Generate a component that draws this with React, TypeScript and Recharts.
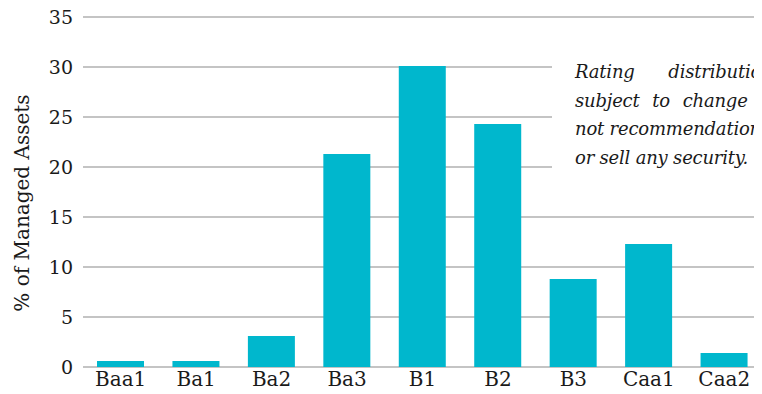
import React from 'react';
import { BarChart, Bar, XAxis, YAxis, CartesianGrid } from 'recharts';

const ratings = ['Baa1', 'Ba1', 'Ba2', 'Ba3', 'B1', 'B2', 'B3', 'Caa1', 'Caa2'];
const managedPct = [0.6, 0.6, 3.1, 21.3, 30.1, 24.3, 8.8, 12.3, 1.4];
const yTicks = [0, 5, 10, 15, 20, 25, 30, 35];
const noteLines = [
  'Rating distribution is',
  'subject to change and is',
  'not recommendation to buy',
  'or sell any security.',
];

const data = ratings.map((name, i) => ({ name, pct: managedPct[i] }));

const FONT = '"DejaVu Serif", serif';

const YLabel = (props: any) => {
  const vb = props.viewBox || {};
  const x = vb.x + 22;
  const y = vb.y + vb.height / 2 + 11;
  return (
    <text
      x={x}
      y={y}
      transform={`rotate(-90, ${x}, ${y})`}
      textAnchor="middle"
      dominantBaseline="central"
      fill="#1a1a1a"
      style={{ fontFamily: FONT, fontSize: 20 }}
    >
      % of Managed Assets
    </text>
  );
};

const App: React.FC = () => {
  return (
    <div style={{ margin: -8, width: 762, height: 394, overflow: 'hidden', position: 'relative', background: '#fff' }}>
      <BarChart
        width={762}
        height={394}
        data={data}
        margin={{ top: 17, right: 0, left: 0, bottom: 0 }}
        barSize={47}
      >
        <CartesianGrid vertical={false} stroke="#c4c4c4" strokeWidth={2} />
        <XAxis
          dataKey="name"
          axisLine={false}
          tickLine={false}
          height={27}
          tickMargin={0}
          interval={0}
          tick={{ fontFamily: FONT, fontSize: 20, fill: '#1a1a1a', dy: -1 }}
        />
        <YAxis
          width={83}
          domain={[0, 35]}
          ticks={yTicks}
          axisLine={false}
          tickLine={false}
          tickMargin={4}
          tick={{ fontFamily: FONT, fontSize: 19, fill: '#1a1a1a' }}
          label={<YLabel />}
        />
        <Bar dataKey="pct" fill="#00B7CD" isAnimationActive={false} />
      </BarChart>
      <div
        style={{
          position: 'absolute',
          left: 552,
          top: 58,
          width: 320,
          height: 116,
          background: '#fff',
          paddingLeft: 23,
          boxSizing: 'border-box',
          fontFamily: FONT,
          fontStyle: 'italic',
          fontSize: 18,
          lineHeight: '28.7px',
          letterSpacing: -0.2,
          color: '#1a1a1a',
        }}
      >
        {noteLines.map((line, i) => (
          <div
            key={i}
            style={{
              width: 246,
              whiteSpace: 'nowrap',
              textAlign: 'justify',
              textAlignLast: i < noteLines.length - 1 ? 'justify' : 'left',
            }}
          >
            {line}
          </div>
        ))}
      </div>
    </div>
  );
};

export default App;
